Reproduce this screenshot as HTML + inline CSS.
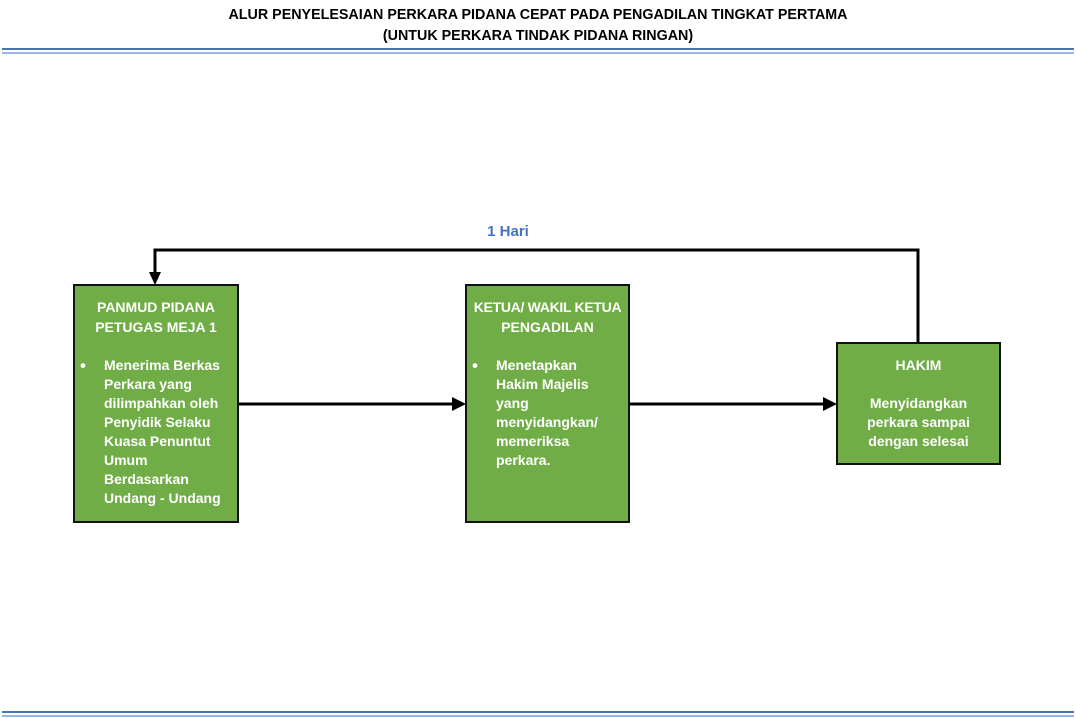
<!DOCTYPE html>
<html><head><meta charset="utf-8"><style>
*{margin:0;padding:0;box-sizing:border-box}
body{width:1076px;height:718px;background:#fff;position:relative;overflow:hidden;font-family:"Liberation Sans",sans-serif}
.t{position:absolute;left:0;width:1076px;text-align:center;font-weight:bold;font-size:14.3px;color:#000}
.hl{position:absolute;left:2px;width:1072px;height:2px}
.box{position:absolute;background:#70ad47;border:2px solid #111}
.l{position:absolute;color:#fff;font-weight:bold;font-size:14px;white-space:nowrap;line-height:19px}
.c{text-align:center;left:0;width:100%}
</style></head><body>
<div class="t" style="top:7px">ALUR PENYELESAIAN PERKARA PIDANA CEPAT PADA PENGADILAN TINGKAT PERTAMA</div>
<div class="t" style="top:28px">(UNTUK PERKARA TINDAK PIDANA RINGAN)</div>
<div class="hl" style="top:48px;background:#4a72b8"></div>
<div class="hl" style="top:52px;background:#9db6e0"></div>
<div class="hl" style="top:711px;background:#4a72b8"></div>
<div class="hl" style="top:715px;background:#9db6e0"></div>

<svg width="1076" height="718" style="position:absolute;left:0;top:0">
<polyline points="918,343 918,250 155,250 155,276" fill="none" stroke="#000" stroke-width="3"/>
<polygon points="149,272 161,272 155,285" fill="#000"/>
<line x1="238" y1="404" x2="455" y2="404" stroke="#000" stroke-width="3"/>
<polygon points="452,397 466,404 452,411" fill="#000"/>
<line x1="629" y1="404" x2="826" y2="404" stroke="#000" stroke-width="3"/>
<polygon points="823,397 837,404 823,411" fill="#000"/>
<text x="508" y="236" text-anchor="middle" font-family="Liberation Sans" font-weight="bold" font-size="15" fill="#4472c4">1 Hari</text>
</svg>

<div class="box" style="left:73px;top:284px;width:166px;height:239px">
<div class="l c" style="top:12px">PANMUD PIDANA</div>
<div class="l c" style="top:32px">PETUGAS MEJA 1</div>
<div class="l" style="left:5px;top:70px;font-size:17px">•</div>
<div class="l" style="left:29px;top:70px">Menerima Berkas<br>Perkara yang<br>dilimpahkan oleh<br>Penyidik Selaku<br>Kuasa Penuntut<br>Umum<br>Berdasarkan<br>Undang - Undang</div>
</div>

<div class="box" style="left:465px;top:284px;width:165px;height:239px">
<div class="l c" style="top:12px;letter-spacing:-0.3px">KETUA/ WAKIL KETUA</div>
<div class="l c" style="top:32px">PENGADILAN</div>
<div class="l" style="left:5px;top:70px;font-size:17px">•</div>
<div class="l" style="left:29px;top:70px">Menetapkan<br>Hakim Majelis<br>yang<br>menyidangkan/<br>memeriksa<br>perkara.</div>
</div>

<div class="box" style="left:836px;top:342px;width:165px;height:123px">
<div class="l c" style="top:12px">HAKIM</div>
<div class="l c" style="top:50px">Menyidangkan<br>perkara sampai<br>dengan selesai</div>
</div>
</body></html>
